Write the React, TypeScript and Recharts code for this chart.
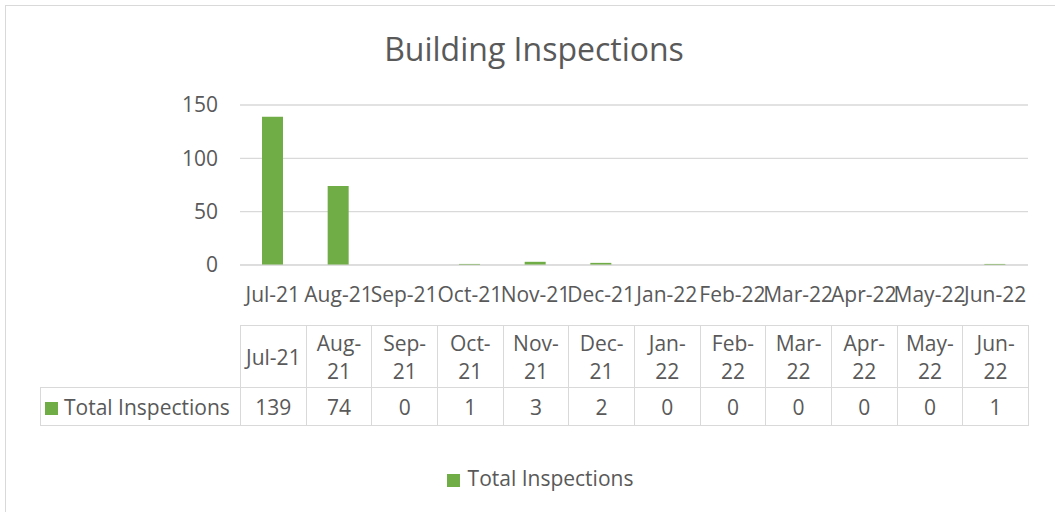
import { BarChart, Bar, XAxis, YAxis, CartesianGrid, Legend } from "recharts";

const months = ["Jul-21", "Aug-21", "Sep-21", "Oct-21", "Nov-21", "Dec-21", "Jan-22", "Feb-22", "Mar-22", "Apr-22", "May-22", "Jun-22"];
const inspections = [139, 74, 0, 1, 3, 2, 0, 0, 0, 0, 0, 1];
const yTicks = [0, 50, 100, 150];

const data = months.map((m, i) => ({ month: m, total: inspections[i] }));

const GREEN = "#70ad47";
const GREY = "#595959";
const LINE = "#d9d9d9";
const FONT = "'Open Sans', sans-serif";

const plotLeft = 240;
const plotRight = 1028;
const tableLeft = 40;
const colW = (plotRight - plotLeft) / months.length;

export default function App() {
  const cell: React.CSSProperties = {
    border: `1px solid ${LINE}`,
    textAlign: "center",
    padding: "0 3px",
    lineHeight: "28px",
  };
  return (
    <div
      style={{
        position: "absolute",
        left: 0,
        top: 0,
        width: 1055,
        height: 512,
        overflow: "hidden",
        background: "#fff",
        fontFamily: FONT,
        color: GREY,
      }}
    >
      <div
        style={{
          position: "absolute",
          left: 5,
          top: 5,
          width: 1070,
          height: 530,
          border: `1px solid ${LINE}`,
        }}
      />
      <div
        style={{
          position: "absolute",
          left: 0,
          top: 27,
          width: 1068,
          textAlign: "center",
          fontSize: 32,
        }}
      >
        Building Inspections
      </div>

      <BarChart
        width={1055}
        height={512}
        data={data}
        margin={{ top: 105, right: 1055 - plotRight, left: plotLeft - 60, bottom: 179 }}
        style={{ position: "absolute", left: 0, top: 0 }}
      >
        <CartesianGrid vertical={false} stroke={LINE} strokeWidth={1.3} />
        <XAxis
          dataKey="month"
          interval={0}
          height={40}
          tickLine={false}
          axisLine={{ stroke: LINE }}
          tickSize={0}
          tickMargin={22}
          tick={{ fill: GREY, fontSize: 21, fontFamily: FONT }}
        />
        <YAxis
          width={60}
          domain={[0, 150]}
          ticks={yTicks}
          axisLine={false}
          tickLine={false}
          tickSize={0}
          tickMargin={22}
          tick={{ fill: GREY, fontSize: 21, fontFamily: FONT }}
        />
        <Bar dataKey="total" name="Total Inspections" fill={GREEN} barSize={21} isAnimationActive={false} />
        <Legend
          iconType="square"
          iconSize={13}
          wrapperStyle={{ top: 464, left: 10, width: 1070, fontSize: 21, fontFamily: FONT }}
          formatter={(v) => <span style={{ color: GREY, marginLeft: 4 }}>{v}</span>}
        />
      </BarChart>

      <table
        style={{
          position: "absolute",
          left: tableLeft,
          top: 325,
          width: plotRight - tableLeft + 1,
          borderCollapse: "collapse",
          tableLayout: "fixed",
          fontSize: 21,
          fontFamily: FONT,
          color: GREY,
        }}
      >
        <colgroup>
          <col style={{ width: plotLeft - tableLeft }} />
          {months.map((m) => (
            <col key={m} style={{ width: colW }} />
          ))}
        </colgroup>
        <tbody>
          <tr style={{ height: 62 }}>
            <td style={{ border: "none" }} />
            {months.map((m) => (
              <td key={m} style={cell}>
                {m}
              </td>
            ))}
          </tr>
          <tr style={{ height: 38 }}>
            <td
              style={{
                border: `1px solid ${LINE}`,
                padding: "0 4px",
                whiteSpace: "nowrap",
              }}
            >
              <span
                style={{
                  display: "inline-block",
                  width: 13,
                  height: 13,
                  background: GREEN,
                  marginRight: 6,
                }}
              />
              Total Inspections
            </td>
            {inspections.map((v, i) => (
              <td key={i} style={cell}>
                {v}
              </td>
            ))}
          </tr>
        </tbody>
      </table>
    </div>
  );
}
